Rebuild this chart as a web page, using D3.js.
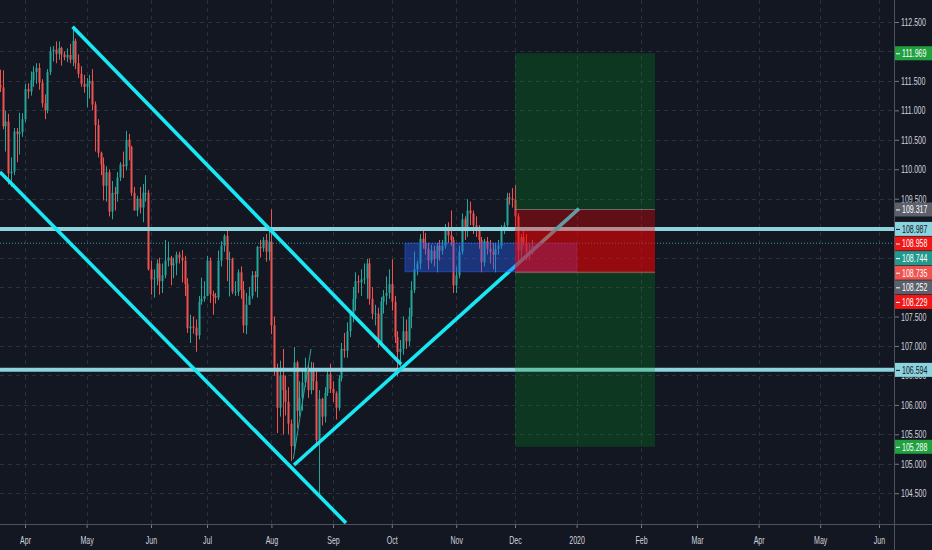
<!DOCTYPE html>
<html><head><meta charset="utf-8">
<script src="https://cdn.jsdelivr.net/npm/d3@7"></script>
<style>html,body{margin:0;padding:0;background:#131722;overflow:hidden}</style>
</head><body><svg id="c" width="932" height="550"></svg>
<script>
// ---------- DATA ----------
const START = "2019-03-18"; // first daily bar (weekdays only)
// Mar | Apr | May | Jun | Jul | Aug | Sep | Oct | Nov | Dec
const opens = [
111.47,111.43,111.39,110.73,110.81,109.93,109.96,110.64,110.60,110.63,
110.85,111.36,111.32,111.51,111.65,111.72,111.47,111.12,111.00,111.65,112.00,112.03,111.96,112.06,111.95,111.90,111.94,111.86,112.18,111.80,111.62,111.45,
111.40,111.45,111.50,111.10,110.75,110.28,110.08,109.72,109.95,109.28,109.60,109.58,109.86,110.08,110.05,110.50,110.38,109.60,109.30,109.50,109.35,109.60,109.60,
108.30,108.13,108.15,108.40,108.10,108.20,108.45,108.50,108.37,108.40,108.55,108.50,108.45,108.05,107.30,107.33,107.31,107.18,107.75,107.80,
107.85,108.45,107.88,107.85,107.82,108.45,108.70,108.87,108.47,108.48,107.92,107.92,108.25,107.95,107.35,107.70,107.85,108.20,108.17,108.68,108.66,108.80,108.60,
108.77,107.35,106.58,105.95,106.50,106.25,106.05,105.68,105.30,106.72,105.90,106.12,106.38,106.60,106.25,106.60,106.40,105.40,106.10,105.80,106.20,106.52,
106.27,106.20,105.95,106.45,106.95,106.92,107.25,107.55,107.80,108.10,108.08,108.13,108.15,108.40,107.80,107.55,107.55,107.05,107.75,107.85,107.90,
108.05,107.75,107.15,106.90,106.95,107.25,107.08,107.50,107.95,108.30,108.40,108.82,108.75,108.65,108.45,108.62,108.48,108.70,108.62,108.70,108.95,108.88,108.80,
108.03,108.20,108.60,109.15,108.95,109.30,109.25,109.05,108.98,108.80,108.42,108.78,108.65,108.60,108.55,108.65,108.70,108.95,109.05,109.52,109.50,
109.48,109.20,108.62,108.85,108.75,108.60,108.60];
const highs = [
111.58,111.69,111.68,111.00,110.94,110.20,110.70,110.70,110.96,110.95,
111.45,111.46,111.66,111.75,111.80,111.80,111.53,111.27,111.70,112.08,112.09,112.17,112.17,112.08,112.00,112.05,112.13,112.40,112.22,111.95,111.75,111.60,
111.55,111.60,111.70,111.15,110.85,110.30,110.20,110.05,110.00,109.80,109.70,109.95,110.12,110.30,110.65,110.60,110.40,109.70,109.55,109.70,109.75,109.90,109.65,
108.45,108.30,108.47,108.50,108.40,108.80,108.77,108.53,108.50,108.60,108.60,108.63,108.53,108.15,107.53,107.50,107.45,107.85,108.16,108.10,
108.53,108.50,107.94,107.90,108.62,108.78,108.90,108.99,108.60,108.50,108.10,108.30,108.35,108.10,107.90,108.00,108.27,108.27,108.70,108.80,108.85,108.90,108.98,
109.32,107.50,106.70,106.75,106.95,106.50,106.30,105.75,106.98,106.75,106.40,106.60,106.80,106.68,106.73,106.72,106.60,106.25,106.12,106.30,106.60,106.70,
106.40,106.23,106.50,107.05,107.22,107.40,107.60,108.00,108.25,108.20,108.30,108.40,108.48,108.48,108.00,107.70,107.65,107.83,107.95,108.18,108.30,
108.47,107.85,107.25,107.10,107.50,107.45,107.65,108.10,108.60,108.45,108.90,109.00,108.92,108.75,108.72,108.70,108.75,108.80,108.80,109.07,109.10,109.30,108.85,
108.35,108.70,109.25,109.20,109.49,109.45,109.30,109.20,109.05,108.85,108.82,108.85,108.80,108.75,108.75,108.80,109.05,109.10,109.60,109.60,109.68,
109.73,109.25,108.90,108.95,108.90,108.75,108.80];
const lows = [
111.33,111.31,110.68,110.30,109.74,109.70,109.90,110.12,110.25,110.55,
110.80,111.20,111.25,111.40,111.45,111.35,111.05,110.85,110.95,111.60,111.83,111.80,111.86,111.76,111.85,111.82,111.80,111.75,111.70,111.55,111.40,111.30,
111.05,111.20,111.00,110.30,110.20,109.90,109.47,109.45,109.20,109.15,109.30,109.45,109.80,109.85,109.98,110.15,109.55,109.30,109.20,109.25,109.10,109.45,108.28,
107.87,107.82,108.03,107.87,107.90,108.15,108.35,108.03,108.15,108.20,108.40,108.08,107.85,107.22,107.05,107.21,106.90,107.11,107.70,107.75,
107.85,107.73,107.53,107.72,107.78,108.35,108.60,108.10,107.84,107.88,107.85,107.85,107.80,107.22,107.20,107.70,107.80,107.92,107.82,108.50,108.60,108.43,108.45,
107.20,106.50,105.52,105.80,105.50,105.82,105.50,105.05,105.22,105.60,105.80,105.90,106.30,106.12,106.18,106.25,105.30,104.46,105.65,105.70,106.15,106.20,
106.05,105.75,105.90,106.40,106.80,106.80,107.15,107.40,107.60,107.90,107.85,108.05,107.80,107.70,107.45,107.35,106.97,107.00,107.55,107.70,107.80,
107.60,107.05,106.48,106.65,106.85,106.95,107.00,107.30,107.90,108.20,108.30,108.65,108.55,108.30,108.40,108.35,108.25,108.45,108.55,108.65,108.75,108.70,107.90,
107.90,108.15,108.55,108.80,108.85,109.05,108.90,108.85,108.65,108.25,108.35,108.55,108.40,108.30,108.25,108.55,108.65,108.90,109.00,109.40,109.35,
109.00,108.45,108.45,108.70,108.45,108.45,108.55];
const closes = [
111.43,111.39,110.73,110.81,109.93,109.96,110.64,110.60,110.63,110.85,
111.36,111.32,111.51,111.65,111.72,111.47,111.12,111.00,111.65,112.00,112.03,111.96,112.06,111.95,111.90,111.94,111.86,112.18,111.80,111.62,111.45,111.40,
111.45,111.50,111.10,110.75,110.28,110.08,109.72,109.95,109.28,109.60,109.58,109.86,110.08,110.05,110.50,110.38,109.60,109.30,109.50,109.35,109.60,109.60,108.30,
108.13,108.15,108.40,108.10,108.20,108.45,108.50,108.37,108.40,108.55,108.50,108.45,108.05,107.30,107.33,107.31,107.18,107.75,107.80,107.85,
108.45,107.88,107.85,107.82,108.45,108.70,108.87,108.47,108.48,107.92,107.92,108.25,107.95,107.35,107.70,107.85,108.20,108.17,108.68,108.66,108.80,108.60,108.77,
107.35,106.58,105.95,106.50,106.25,106.05,105.68,105.30,106.72,105.90,106.12,106.38,106.60,106.25,106.60,106.40,105.40,106.10,105.80,106.20,106.52,106.27,
106.20,105.95,106.45,106.95,106.92,107.25,107.55,107.80,108.10,108.08,108.13,108.15,108.40,107.80,107.55,107.55,107.05,107.75,107.85,107.90,108.05,
107.75,107.15,106.90,106.95,107.25,107.08,107.50,107.95,108.30,108.40,108.82,108.75,108.65,108.45,108.62,108.48,108.70,108.62,108.70,108.95,108.88,108.80,108.03,
108.20,108.60,109.15,108.95,109.30,109.25,109.05,108.98,108.80,108.42,108.78,108.65,108.60,108.55,108.65,108.70,108.95,109.05,109.52,109.50,109.48,
109.20,108.62,108.85,108.75,108.60,108.60,108.70];

const monthTickDates = ["2019-04-01","2019-05-01","2019-06-03","2019-07-01","2019-08-01","2019-09-02","2019-10-01","2019-11-01","2019-12-02","2020-01-01","2020-02-03","2020-03-02","2020-04-01","2020-05-01","2020-06-01"];
const monthTickLabels = ["Apr","May","Jun","Jul","Aug","Sep","Oct","Nov","Dec","2020","Feb","Mar","Apr","May","Jun"];
const priceTicks = [104.5,105,105.5,106,106.5,107,107.5,108,108.5,109,109.5,110,110.5,111,111.5,112,112.5];

// drawings (bar index from START, price)
const levelPrices = [108.987, 106.594];
const priceLinePrice = 108.744;
const channelUpper = [[27, 112.42], [144.3, 106.69]];
const channelLower = [[1.07, 109.953], [124.64, 103.994]];
const supportLine = [[106.07, 104.979], [207.86, 109.33]];
const thinLine = [[105.82, 105.08], [112.14, 106.95]];
const blueBoxBars = [145.7, 207.1];
const blueBoxPrices = [108.744, 108.26];
const toolBars = [185, 235];
const longTool = [111.969, 109.317, 108.229];   // target, entry, stop
const shortTool = [105.288, 108.252, 108.958];  // target, entry, stop

const badgeValues = [111.969, 109.317, 108.987, 108.958, 108.744, 108.735, 108.252, 108.229, 106.594, 105.288];
const badgeKinds  = ["target","entry","level","stop","priceline","last","entry","stop","level","target"];

// ---------- STYLE ----------
const BG = "#131722", UP = "#26a69a", DOWN = "#ef5350", CYAN = "#18e7f4", LEVEL = "#8dd3de";
const TXT = "#d1d4dc", AXIS = "#4c525e", GRID = "#2c303c";
const badgeStyle = {
  target:{bg:"#20a03f", fg:"#ffffff"}, entry:{bg:"#5d606b", fg:"#ffffff"},
  level:{bg:"#8bd3de", fg:"#131722"}, stop:{bg:"#f21616", fg:"#ffffff"},
  priceline:{bg:"#1f9a8c", fg:"#ffffff"}, last:{bg:"#ef5350", fg:"#ffffff"}
};
const FONT = "'Liberation Sans', Arial, sans-serif";
const FS = "11px";
const SQUEEZE = 0.64;

// ---------- SCALES ----------
function barIndex(ds){
  const p = START.split("-").map(Number), q = ds.split("-").map(Number);
  const t0 = Date.UTC(p[0],p[1]-1,p[2]), t1 = Date.UTC(q[0],q[1]-1,q[2]);
  let n = 0;
  for (let t=t0; t<t1; t+=86400000){ const w = new Date(t).getUTCDay(); if (w!==0 && w!==6) n++; }
  return n;
}
const W = 932, H = 550, PR = 894, PB = 524;
const tickIdx = monthTickDates.map(barIndex);
const x = d3.scaleLinear().domain([tickIdx[0], tickIdx[tickIdx.length-1]]).range([25, 879]);
const y = d3.scaleLinear().domain([104.5, 112.5]).range([493.2, 22]);

const svg = d3.select("#c");
svg.append("rect").attr("width",W).attr("height",H).attr("fill",BG);
svg.append("defs").append("clipPath").attr("id","plot").append("rect").attr("width",PR).attr("height",PB);

// grid
const grid = svg.append("g").attr("clip-path","url(#plot)");
grid.selectAll("line.h").data(priceTicks).join("line").attr("class","h")
  .attr("x1",0).attr("x2",PR).attr("y1",d=>Math.round(y(d))+0.5).attr("y2",d=>Math.round(y(d))+0.5)
  .attr("stroke",GRID).attr("stroke-dasharray","4,4");
grid.selectAll("line.v").data(tickIdx).join("line").attr("class","v")
  .attr("y1",0).attr("y2",PB).attr("x1",d=>Math.round(x(d))+0.5).attr("x2",d=>Math.round(x(d))+0.5)
  .attr("stroke",GRID).attr("stroke-dasharray","4,4");

// candles
const plot = svg.append("g").attr("clip-path","url(#plot)");
const cg = plot.append("g");
const idx = d3.range(closes.length);
cg.selectAll("line.w").data(idx).join("line").attr("class","w")
  .attr("x1",i=>Math.round(x(i))+0.5).attr("x2",i=>Math.round(x(i))+0.5)
  .attr("y1",i=>y(highs[i])).attr("y2",i=>y(lows[i]))
  .attr("stroke",i=>closes[i]>=opens[i]?UP:DOWN).attr("stroke-width",1);
cg.selectAll("rect.b").data(idx).join("rect").attr("class","b")
  .attr("x",i=>Math.round(x(i))-0.5).attr("width",2)
  .attr("y",i=>y(Math.max(opens[i],closes[i])))
  .attr("height",i=>Math.max(1, Math.abs(y(opens[i])-y(closes[i]))))
  .attr("fill",i=>closes[i]>=opens[i]?UP:DOWN);

// horizontal levels
plot.selectAll("line.lv").data(levelPrices).join("line").attr("class","lv")
  .attr("x1",0).attr("x2",PR).attr("y1",d=>y(d)).attr("y2",d=>y(d))
  .attr("stroke",LEVEL).attr("stroke-width",4);
// price line (dotted)
plot.append("line").attr("x1",0).attr("x2",PR).attr("y1",y(priceLinePrice)).attr("y2",y(priceLinePrice))
  .attr("stroke",UP).attr("stroke-width",1).attr("stroke-dasharray","1,2");

// trend lines
const lineGen = d3.line().x(d=>x(d[0])).y(d=>y(d[1]));
[channelUpper, channelLower, supportLine].forEach(l=>{
  plot.append("path").attr("d",lineGen(l)).attr("stroke",CYAN).attr("stroke-width",3.6).attr("fill","none");
});
plot.append("path").attr("d",lineGen(thinLine)).attr("stroke",UP).attr("stroke-width",1).attr("fill","none");

// blue box
plot.append("rect").attr("x",x(blueBoxBars[0])).attr("width",x(blueBoxBars[1])-x(blueBoxBars[0]))
  .attr("y",y(blueBoxPrices[0])).attr("height",y(blueBoxPrices[1])-y(blueBoxPrices[0]))
  .attr("fill","rgba(41,98,255,0.4)").attr("stroke","rgba(41,98,255,0.5)").attr("stroke-width",1);

// position tools
function zone(p1,p2,fill){
  plot.append("rect").attr("x",x(toolBars[0])).attr("width",x(toolBars[1])-x(toolBars[0]))
    .attr("y",y(Math.max(p1,p2))).attr("height",Math.abs(y(p1)-y(p2))).attr("fill",fill);
}
const GREENZ = "rgba(0,150,30,0.25)", REDZ = "rgba(255,0,0,0.33)";
zone(longTool[0], longTool[1], GREENZ);
zone(longTool[1], longTool[2], REDZ);
zone(shortTool[1], shortTool[0], GREENZ);
zone(shortTool[2], shortTool[1], REDZ);
[longTool[1], shortTool[1]].forEach(p=>{
  plot.append("line").attr("x1",x(toolBars[0])).attr("x2",x(toolBars[1])).attr("y1",y(p)).attr("y2",y(p))
    .attr("stroke","rgba(150,155,165,0.6)").attr("stroke-width",1);
});

// axes frame
svg.append("line").attr("x1",PR+0.5).attr("x2",PR+0.5).attr("y1",0).attr("y2",H).attr("stroke",AXIS);
svg.append("line").attr("x1",0).attr("x2",W).attr("y1",PB+0.5).attr("y2",PB+0.5).attr("stroke",AXIS);

// horizontally condensed text via transform (keeps real bounding box small)
function condense(sel){
  sel.each(function(){
    const t = d3.select(this);
    const tx = +t.attr("x") || 0;
    t.attr("x", 0).attr("transform", `translate(${tx},0) scale(${SQUEEZE},1)`);
  });
}

// right axis
const ya = svg.append("g").attr("transform",`translate(${PR},0)`)
  .call(d3.axisRight(y).tickValues(priceTicks).tickFormat(d3.format(".3f")).tickSize(5).tickPadding(2));
ya.select(".domain").remove();
ya.selectAll(".tick line").attr("stroke","#787b86").attr("x1",1);
ya.selectAll(".tick text").attr("fill",TXT).style("font-family",FONT).style("font-size",FS).call(condense);

// bottom axis
const xa = svg.append("g").attr("transform",`translate(0,${PB})`)
  .call(d3.axisBottom(x).tickValues(tickIdx).tickFormat((d,i)=>monthTickLabels[i]).tickSize(4).tickPadding(8));
xa.select(".domain").remove();
xa.selectAll(".tick line").attr("stroke","#787b86").attr("y1",1);
xa.selectAll(".tick text").attr("fill",TXT).style("font-family",FONT).style("font-size",FS).call(condense);

// badges
const order = d3.range(badgeValues.length).sort((a,b)=>badgeValues[b]-badgeValues[a]);
const by = []; let prev = -Infinity;
order.forEach(i=>{ let yy = y(badgeValues[i]); if (yy < prev+14.6) yy = prev+14.6; by[i]=yy; prev=yy; });
const bg = svg.append("g");
const b = bg.selectAll("g").data(d3.range(badgeValues.length)).join("g").attr("transform",i=>`translate(${PR+1},${by[i]})`);
b.append("rect").attr("x",0).attr("y",-7).attr("width",W-PR-1).attr("height",14).attr("fill",i=>badgeStyle[badgeKinds[i]].bg);
b.append("line").attr("x1",1).attr("x2",5).attr("y1",0.5).attr("y2",0.5).attr("stroke",i=>badgeStyle[badgeKinds[i]].fg);
b.append("text").attr("x",7).attr("dy","0.36em").text(i=>d3.format(".3f")(badgeValues[i]))
  .attr("fill",i=>badgeStyle[badgeKinds[i]].fg).style("font-family",FONT).style("font-size",FS).call(condense);
</script>
</body></html>
